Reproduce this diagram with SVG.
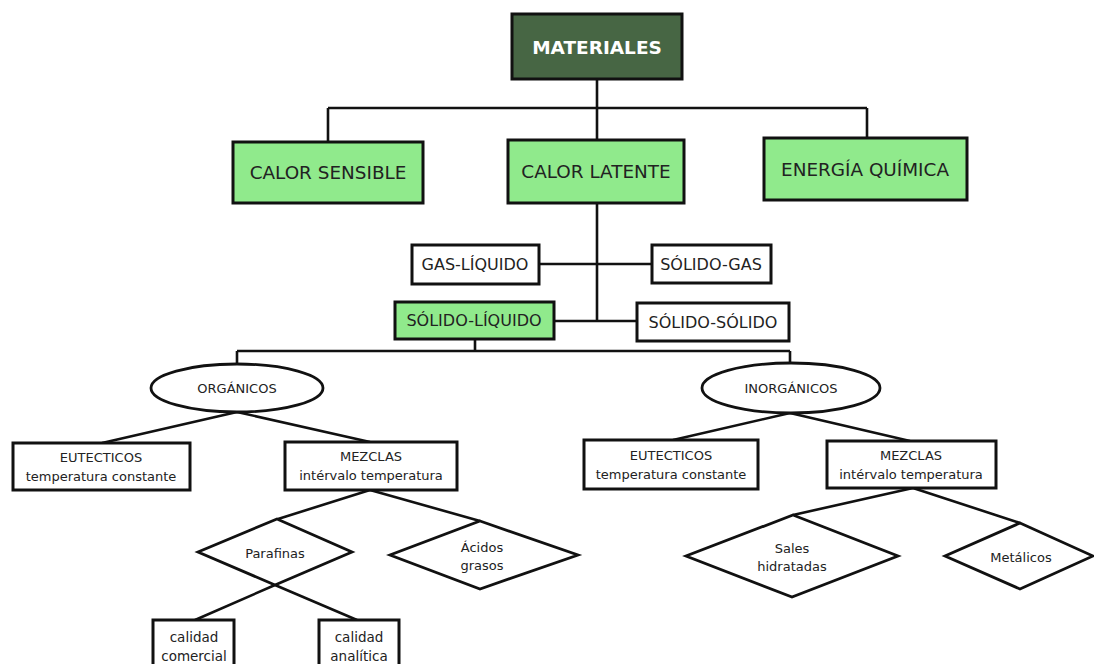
<svg xmlns="http://www.w3.org/2000/svg" width="1094" height="664" viewBox="0 0 1094 664">
<style>
.box{fill:#fff;stroke:#111;stroke-width:3}
.green{fill:#90ea8c;stroke:#111;stroke-width:3}
.dark{fill:#476644;stroke:#111;stroke-width:3}
.shape{fill:#fff;stroke:#111;stroke-width:2.8}
.ln{stroke:#111;stroke-width:2.6;fill:none}
text{font-family:"DejaVu Sans","Verdana",sans-serif;fill:#222;text-anchor:middle}
.t16{font-size:18.4px}
.t14{font-size:16px}
.t12{font-size:13px}
.t11{font-size:13px}
.tc{font-size:13.5px}
.title{font-size:18.5px;font-weight:bold;fill:#fff}
</style>
<rect width="1094" height="664" fill="#fff"/>
<g id="connectors">
<path class="ln" d="M597 79V108M328 108H867M328 108V142M597 108V140M867 108V138"/>
<path class="ln" d="M597 203V321M539 264H652M554 321H637"/>
<path class="ln" d="M475 339V351M237 351H790M237 351V365M790 351V363"/>
<path class="ln" d="M237 412L102 443M237 412L370 442"/>
<path class="ln" d="M790 413L673 440M790 413L910 441"/>
<path class="ln" d="M370 490L278 519M370 490L480 521"/>
<path class="ln" d="M275 585L195 620M275 585L357 620"/>
<path class="ln" d="M913 488L793 515M913 488L1020 523"/>
</g>
<g id="materiales"><rect class="dark" x="512" y="14" width="170" height="65"/><text class="title" x="597" y="54">MATERIALES</text></g>
<g id="calor-sensible"><rect class="green" x="233" y="142" width="190" height="61"/><text class="t16" x="328" y="179">CALOR SENSIBLE</text></g>
<g id="calor-latente"><rect class="green" x="508" y="140" width="176" height="63"/><text class="t16" x="596" y="178">CALOR LATENTE</text></g>
<g id="energia-quimica"><rect class="green" x="764" y="138" width="203" height="62"/><text class="t16" x="865" y="176">ENERGÍA QUÍMICA</text></g>
<g id="gas-liquido"><rect class="box" x="412" y="245" width="127" height="39"/><text class="t14" x="475" y="270">GAS-LÍQUIDO</text></g>
<g id="solido-gas"><rect class="box" x="652" y="245" width="119" height="38"/><text class="t14" x="711" y="270">SÓLIDO-GAS</text></g>
<g id="solido-liquido"><rect class="green" x="395" y="302" width="159" height="37"/><text class="t14" x="474" y="326">SÓLIDO-LÍQUIDO</text></g>
<g id="solido-solido"><rect class="box" x="637" y="303" width="152" height="38"/><text class="t14" x="713" y="328">SÓLIDO-SÓLIDO</text></g>
<g id="organicos"><ellipse class="shape" cx="237" cy="388" rx="86" ry="24"/><text class="t12" x="237" y="393">ORGÁNICOS</text></g>
<g id="inorganicos"><ellipse class="shape" cx="791" cy="388" rx="89" ry="25"/><text class="t12" x="791" y="393">INORGÁNICOS</text></g>
<g id="eutecticos-org"><rect class="box" x="13" y="443" width="177" height="47"/><text class="t12" x="101" y="462">EUTECTICOS</text><text class="t12" x="101" y="481">temperatura constante</text></g>
<g id="mezclas-org"><rect class="box" x="285" y="442" width="172" height="48"/><text class="t12" x="371" y="461">MEZCLAS</text><text class="t12" x="371" y="480">intérvalo temperatura</text></g>
<g id="eutecticos-inorg"><rect class="box" x="584" y="440" width="174" height="49"/><text class="t12" x="671" y="460">EUTECTICOS</text><text class="t12" x="671" y="479">temperatura constante</text></g>
<g id="mezclas-inorg"><rect class="box" x="827" y="441" width="169" height="47"/><text class="t12" x="911" y="460">MEZCLAS</text><text class="t12" x="911" y="479">intérvalo temperatura</text></g>
<g id="parafinas"><polygon class="shape" points="277,519 352,552 275,585 198,552"/><text class="t11" x="275" y="558">Parafinas</text></g>
<g id="acidos-grasos"><polygon class="shape" points="480,521 578,555 480,589 390,555"/><text class="t11" x="482" y="552">Ácidos</text><text class="t11" x="482" y="570">grasos</text></g>
<g id="sales-hidratadas"><polygon class="shape" points="793,515 898,556 792,597 686,556"/><text class="t11" x="792" y="553">Sales</text><text class="t11" x="792" y="571">hidratadas</text></g>
<g id="metalicos"><polygon class="shape" points="1020,523 1093,556 1020,589 945,556"/><text class="t11" x="1021" y="562">Metálicos</text></g>
<g id="calidad-comercial"><rect class="box" x="153" y="620" width="81" height="50"/><text class="tc" x="194" y="642">calidad</text><text class="tc" x="194" y="661">comercial</text></g>
<g id="calidad-analitica"><rect class="box" x="319" y="620" width="80" height="50"/><text class="tc" x="359" y="642">calidad</text><text class="tc" x="359" y="661">analítica</text></g>
</svg>
